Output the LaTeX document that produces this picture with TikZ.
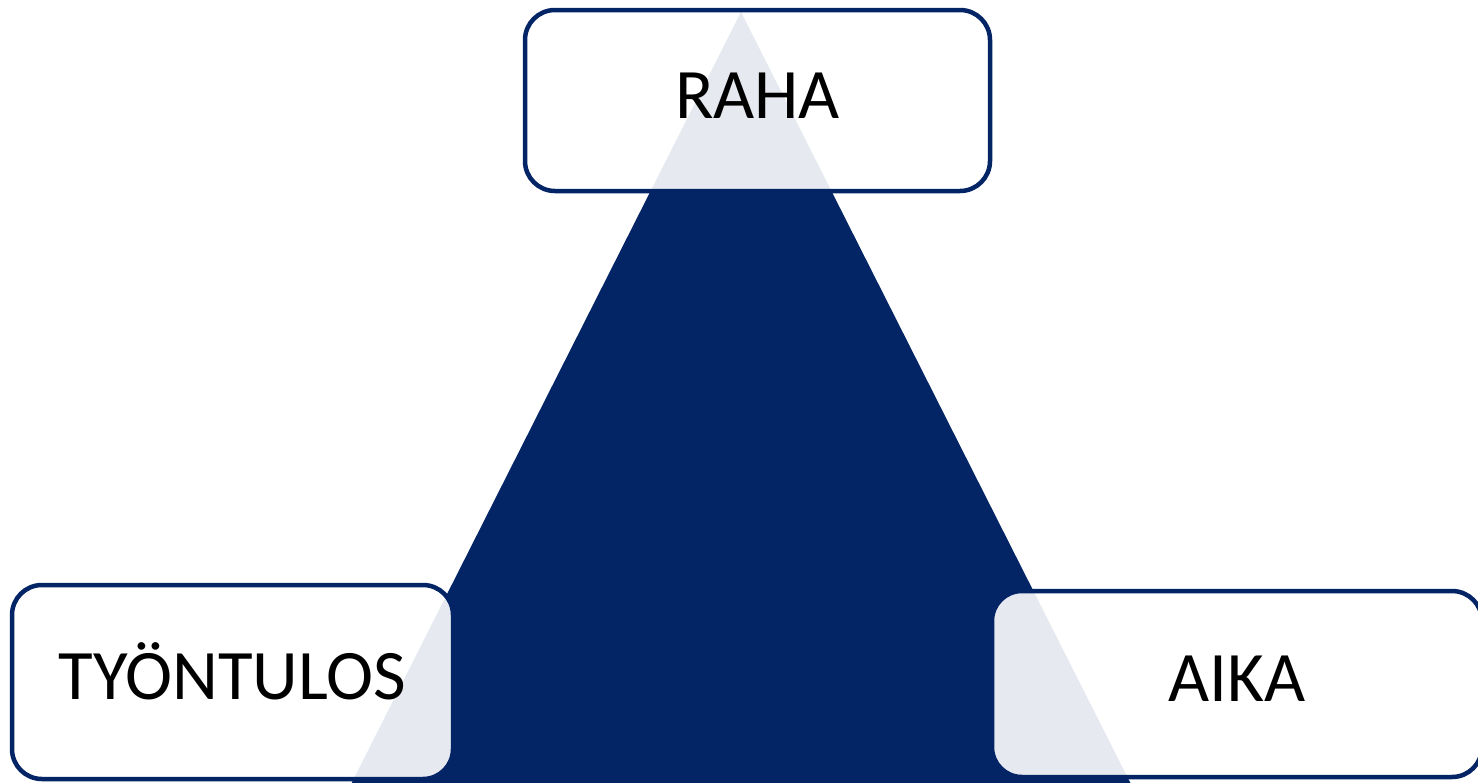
\documentclass[tikz,border=0pt]{standalone}
\usepackage{fontspec}
\setmainfont{Carlito}
\definecolor{navy}{RGB}{4,37,101}
\tikzset{
  box/.style={draw=navy, line width=4.5pt, rounded corners=30pt, fill=white, fill opacity=0.9, text opacity=1,
    font=\fontsize{71}{80}\selectfont, text=black, text height=46pt, text depth=11pt, inner sep=0pt}
}
\begin{document}
\begin{tikzpicture}[x=1pt,y=-1pt]
\useasboundingbox (0,0) rectangle (1478,782);
\clip (0,0) rectangle (1478,782);
\fill[white] (0,0) rectangle (1478,782);
\coordinate (apex) at (741,12);
\coordinate (bl) at (340,806);
\coordinate (br) at (1142,806);
\fill[navy] (apex) -- (bl) -- (br) -- cycle;
\node[box, minimum width=465pt, minimum height=181pt] (raha) at (757.5,100.5) {RAHA};
\node[box, minimum width=441pt, minimum height=194pt] (tyo) at (232.5,682) {TYÖNTULOS};
\node[box, minimum width=490pt, minimum height=186pt] (aika) at (1237,684) {AIKA};
\end{tikzpicture}
\end{document}
